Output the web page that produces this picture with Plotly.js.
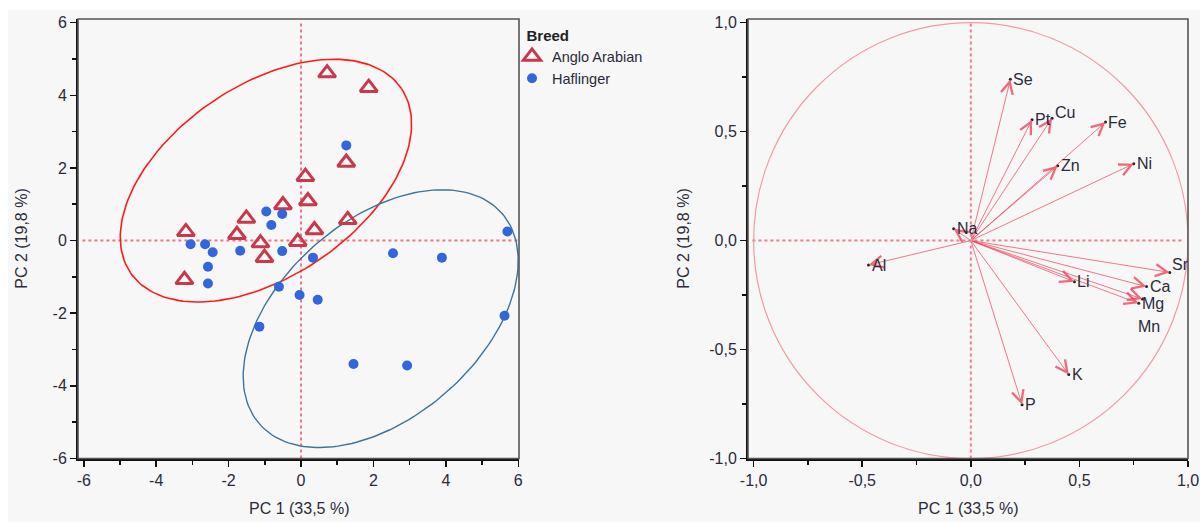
<!DOCTYPE html>
<html>
<head>
<meta charset="utf-8">
<script src="https://cdn.plot.ly/plotly-3.0.1.min.js"></script>
<style>html,body{margin:0;padding:0;background:#fff;}#chart{width:1200px;height:522px;}</style>
</head>
<body>
<div id="chart"></div>
<script>
// ---- Score plot data (PC1, PC2) ----
const angloX = [0.72, 1.87, 1.25, 0.12, 0.19, -0.50, -1.51, -3.18, -1.77, -1.12, -1.01, 0.37, -0.09, 1.29, -3.22];
const angloY = [4.61, 4.21, 2.15, 1.76, 1.09, 0.98, 0.61, 0.24, 0.16, -0.07, -0.47, 0.29, -0.03, 0.57, -1.08];
const haflX = [-0.96, -0.52, -0.82, -3.05, -2.65, -2.44, -1.68, -0.52, -2.57, -2.57, -0.61, -0.04, 0.46, -1.15, 0.33, 1.25, 2.54, 3.89, 5.70, 5.62, 1.45, 2.93];
const haflY = [0.80, 0.73, 0.43, -0.10, -0.10, -0.32, -0.28, -0.29, -0.72, -1.18, -1.27, -1.50, -1.63, -2.37, -0.47, 2.62, -0.35, -0.47, 0.25, -2.07, -3.40, -3.44];

// ---- Density ellipses ----
const ellipseGroups = ['Anglo Arabian', 'Haflinger'];
const ellipseCX = [-0.97, 2.2];
const ellipseCY = [1.65, -2.15];
const ellipseA = [4.52, 4.43];
const ellipseB = [2.63, 2.72];
const ellipseAngle = [34.1, 40.7];

// ---- Loading plot data ----
const loadNames = ['Se', 'Pt', 'Cu', 'Fe', 'Zn', 'Ni', 'Na', 'Al', 'Sr', 'Ca', 'Mg', 'Mn', 'Li', 'K', 'P'];
const loadX = [0.182, 0.282, 0.374, 0.620, 0.400, 0.750, -0.079, -0.471, 0.916, 0.809, 0.773, 0.790, 0.477, 0.451, 0.236];
const loadY = [0.740, 0.555, 0.562, 0.544, 0.343, 0.353, 0.054, -0.112, -0.146, -0.211, -0.288, -0.268, -0.189, -0.615, -0.753];

// ---- Tick labels ----
const scoreTicks = [-6, -4, -2, 0, 2, 4, 6];
const scoreTickText = ['-6', '-4', '-2', '0', '2', '4', '6'];
const loadTicks = [-1.0, -0.5, 0.0, 0.5, 1.0];
const loadTickText = ['-1,0', '-0,5', '0,0', '0,5', '1,0'];
const axisTitleX = 'PC 1 (33,5 %)';
const axisTitleY = 'PC 2 (19,8 %)';
const legendTitle = 'Breed';

// ---- styles ----
const FONT = 'Liberation Sans, Arial, sans-serif';
const TXT = '#2b2b3a';
const FS = 16;
const labelShift = {Cu: [1, 6], Mn: [-6, -27], Sr: [0, 8], Pt: [1, 0]};

function ellipsePoints(i) {
  const xs = [], ys = [];
  const th = ellipseAngle[i] * Math.PI / 180;
  for (let k = 0; k <= 180; k++) {
    const t = 2 * Math.PI * k / 180;
    const ca = ellipseA[i] * Math.cos(t), sb = ellipseB[i] * Math.sin(t);
    xs.push(ellipseCX[i] + ca * Math.cos(th) - sb * Math.sin(th));
    ys.push(ellipseCY[i] + ca * Math.sin(th) + sb * Math.cos(th));
  }
  return {xs, ys};
}

const e0 = ellipsePoints(0), e1 = ellipsePoints(1);
const traces = [
  {x: e0.xs, y: e0.ys, xaxis: 'x', yaxis: 'y', mode: 'lines', line: {color: '#ff1a1a', width: 1.6}, showlegend: false, hoverinfo: 'skip'},
  {x: e1.xs, y: e1.ys, xaxis: 'x', yaxis: 'y', mode: 'lines', line: {color: '#3d739c', width: 1.4}, showlegend: false, hoverinfo: 'skip'},
  {x: angloX, y: angloY, xaxis: 'x', yaxis: 'y', mode: 'markers', name: 'Anglo Arabian',
   marker: {symbol: 'triangle-up-open', size: 15, color: '#c8394c', line: {width: 3, color: '#c8394c'}}},
  {x: haflX, y: haflY, xaxis: 'x', yaxis: 'y', mode: 'markers', name: 'Haflinger',
   marker: {symbol: 'circle', size: 10, color: '#3366dd'}},
  {x: loadX, y: loadY, xaxis: 'x2', yaxis: 'y2', mode: 'markers', showlegend: false,
   marker: {size: 3, color: '#222'}, text: loadNames, hoverinfo: 'text'}
];

const annotations = [];
loadNames.forEach((n, i) => {
  annotations.push({xref: 'x2', yref: 'y2', axref: 'x2', ayref: 'y2', x: loadX[i], y: loadY[i], ax: 0, ay: 0,
    text: '', showarrow: true, arrowhead: 5, arrowsize: 2.6, arrowwidth: 0.9, arrowcolor: 'rgba(240,70,90,0.8)', standoff: 0});
});
loadNames.forEach((n, i) => {
  const s = labelShift[n] || [1, 0];
  annotations.push({xref: 'x2', yref: 'y2', x: loadX[i], y: loadY[i], text: n, showarrow: false,
    xanchor: 'left', yanchor: 'middle', xshift: s[0], yshift: s[1], font: {family: FONT, size: FS, color: TXT}});
});
// axis titles
const titleFont = {family: FONT, size: FS, color: TXT};
annotations.push({xref: 'x domain', yref: 'paper', x: 0.5, y: 1 - 508 / 522, text: axisTitleX, showarrow: false, font: titleFont, yanchor: 'middle'});
annotations.push({xref: 'x2 domain', yref: 'paper', x: 0.5, y: 1 - 508 / 522, text: axisTitleX, showarrow: false, font: titleFont, yanchor: 'middle'});
annotations.push({xref: 'paper', yref: 'y domain', x: 22 / 1200, y: 0.5, text: axisTitleY, showarrow: false, font: titleFont, textangle: -90, xanchor: 'center'});
annotations.push({xref: 'paper', yref: 'y2 domain', x: 684 / 1200, y: 0.5, text: axisTitleY, showarrow: false, font: titleFont, textangle: -90, xanchor: 'center'});

const dotLine = {color: '#f07585', width: 2, dash: 'dot'};
const shapes = [
  {type: 'rect', xref: 'paper', yref: 'paper', x0: 8 / 1200, x1: 1, y0: 0, y1: 1 - 10 / 522, fillcolor: '#f7f7f7', line: {width: 0}, layer: 'below'},
  {type: 'line', xref: 'x', yref: 'y domain', x0: 0, x1: 0, y0: 0, y1: 0.99, line: dotLine, layer: 'below'},
  {type: 'line', xref: 'x domain', yref: 'y', x0: 0.01, x1: 1, y0: 0, y1: 0, line: dotLine, layer: 'below'},
  {type: 'line', xref: 'x2', yref: 'y2 domain', x0: 0, x1: 0, y0: 0, y1: 0.99, line: {color: '#f27a8a', width: 2, dash: 'dot'}, layer: 'below'},
  {type: 'line', xref: 'x2 domain', yref: 'y2', x0: 0.01, x1: 0.99, y0: 0, y1: 0, line: {color: '#f27a8a', width: 2, dash: 'dot'}, layer: 'below'},
  {type: 'circle', xref: 'x2', yref: 'y2', x0: -1, x1: 1, y0: -1, y1: 1, line: {color: '#f49aa3', width: 1.2}, layer: 'below'},
  {type: 'rect', xref: 'x domain', yref: 'y domain', x0: 0, x1: 1, y0: 0, y1: 1, line: {color: '#555', width: 1.6}, layer: 'above'},
  {type: 'rect', xref: 'x2 domain', yref: 'y2 domain', x0: 0, x1: 1, y0: 0, y1: 1, line: {color: '#555', width: 1.6}, layer: 'above'}
];

const yDom = [1 - 458.5 / 522, 1 - 19 / 522];
function ax(extra) {
  return Object.assign({
    showgrid: false, zeroline: false, showline: true, linecolor: '#111', linewidth: 2,
    ticks: 'outside', ticklen: 6, tickwidth: 1.5, tickcolor: '#111',
    tickfont: {family: FONT, size: FS, color: TXT}, fixedrange: true, layer: 'above traces'
  }, extra);
}

const layout = {
  width: 1200, height: 522,
  margin: {l: 0, r: 0, t: 0, b: 0},
  paper_bgcolor: '#ffffff', plot_bgcolor: '#f7f7f7',
  separators: ', ',
  font: {family: FONT, size: FS, color: TXT},
  xaxis: ax({domain: [78 / 1200, 519 / 1200], range: [-6.16, 6.02], tickmode: 'array', tickvals: scoreTicks, ticktext: scoreTickText,
    minor: {dtick: 1, ticklen: 4, tickwidth: 1.5, tickcolor: '#111', ticks: 'outside'}, anchor: 'y'}),
  yaxis: ax({domain: yDom, range: [-6.0, 6.1], tickmode: 'array', tickvals: scoreTicks, ticktext: scoreTickText,
    minor: {dtick: 1, ticklen: 4, tickwidth: 1.5, tickcolor: '#111', ticks: 'outside'}, anchor: 'x'}),
  xaxis2: ax({domain: [748 / 1200, 1188 / 1200], range: [-1.026, 1.0], tickmode: 'array', tickvals: loadTicks, ticktext: loadTickText,
    minor: {dtick: 0.25, ticklen: 4, tickwidth: 1.5, tickcolor: '#111', ticks: 'outside'}, anchor: 'y2'}),
  yaxis2: ax({domain: yDom, range: [-1.0, 1.017], tickmode: 'array', tickvals: loadTicks, ticktext: loadTickText,
    minor: {dtick: 0.25, ticklen: 4, tickwidth: 1.5, tickcolor: '#111', ticks: 'outside'}, anchor: 'x2'}),
  showlegend: true,
  legend: {x: 512 / 1200, y: 1 - 21 / 522, xanchor: 'left', yanchor: 'top', bgcolor: 'rgba(0,0,0,0)',
    title: {text: '\u00a0\u00a0\u00a0<b>' + legendTitle + '</b>', font: {family: FONT, size: 15, color: '#222'}},
    font: {family: FONT, size: 14.5, color: TXT}, tracegroupgap: 0, itemsizing: 'trace', itemwidth: 30},
  shapes: shapes,
  annotations: annotations
};

Plotly.newPlot('chart', traces, layout, {displayModeBar: false, staticPlot: true});
</script>
</body>
</html>
